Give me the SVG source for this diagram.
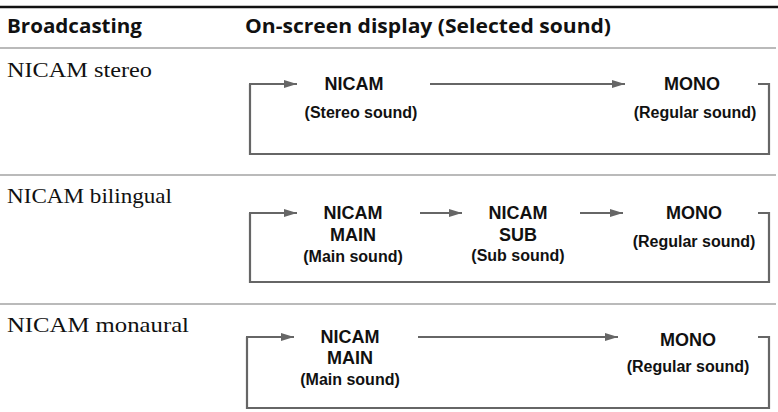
<svg xmlns="http://www.w3.org/2000/svg" width="778" height="412" viewBox="0 0 778 412">
<defs>
<marker id="ah" markerWidth="13" markerHeight="8" refX="13" refY="4" orient="auto" markerUnits="userSpaceOnUse"><path d="M0,0 L13,4 L0,8 Z" fill="#666"/></marker>
<style>
.h{font-family:"Open Sans","Liberation Sans",sans-serif;font-weight:bold;font-size:19px;fill:#111}
.l{font-family:"Liberation Serif",serif;font-size:21px;fill:#111}
.n{font-family:"Liberation Sans",sans-serif;font-weight:bold;font-size:18px;fill:#111;text-anchor:middle}
.s{font-family:"Liberation Sans",sans-serif;font-weight:bold;font-size:16px;fill:#111;text-anchor:middle}
.c{fill:none;stroke:#666;stroke-width:2.2}
.a{stroke:#666;stroke-width:2.2;marker-end:url(#ah)}
.r{stroke:#777;stroke-width:1.2}
</style>
</defs>
<line x1="0" y1="7" x2="778" y2="7" stroke="#111" stroke-width="2.5"/>
<text class="h" x="7" y="33" textLength="135" lengthAdjust="spacingAndGlyphs">Broadcasting</text>
<text class="h" x="245" y="33" textLength="366" lengthAdjust="spacingAndGlyphs">On-screen display (Selected sound)</text>
<line class="r" x1="0" y1="48" x2="776" y2="48"/>
<line class="r" x1="0" y1="175" x2="776" y2="175"/>
<line class="r" x1="0" y1="304" x2="776" y2="304"/>
<text class="l" x="7" y="77" textLength="145" lengthAdjust="spacingAndGlyphs">NICAM stereo</text>
<text class="l" x="7" y="203" textLength="165" lengthAdjust="spacingAndGlyphs">NICAM bilingual</text>
<text class="l" x="7" y="332" textLength="182" lengthAdjust="spacingAndGlyphs">NICAM monaural</text>
<g id="connectors">
<path class="c" d="M758,84 H769 V154 H250 V84"/>
<line class="a" x1="249" y1="84" x2="297" y2="84"/>
<line class="a" x1="430" y1="84" x2="625" y2="84"/>
<path class="c" d="M758,213 H769 V282 H250 V213"/>
<line class="a" x1="249" y1="213" x2="297" y2="213"/>
<line class="a" x1="420" y1="213" x2="462" y2="213"/>
<line class="a" x1="580" y1="213" x2="623" y2="213"/>
<path class="c" d="M758,337 H769 V408 H247 V337"/>
<line class="a" x1="246" y1="337" x2="294" y2="337"/>
<line class="a" x1="418" y1="337" x2="618" y2="337"/>
</g>
<g id="r1n1"><text class="n" x="354" y="90">NICAM</text><text class="s" x="361" y="118">(Stereo sound)</text></g>
<g id="r1n2"><text class="n" x="692" y="90">MONO</text><text class="s" x="695" y="118">(Regular sound)</text></g>
<g id="r2n1"><text class="n" x="353" y="219">NICAM</text><text class="n" x="353" y="241">MAIN</text><text class="s" x="353" y="262">(Main sound)</text></g>
<g id="r2n2"><text class="n" x="518" y="219">NICAM</text><text class="n" x="518" y="241">SUB</text><text class="s" x="518" y="261">(Sub sound)</text></g>
<g id="r2n3"><text class="n" x="694" y="219">MONO</text><text class="s" x="694" y="247">(Regular sound)</text></g>
<g id="r3n1"><text class="n" x="350" y="343">NICAM</text><text class="n" x="350" y="364">MAIN</text><text class="s" x="350" y="385">(Main sound)</text></g>
<g id="r3n2"><text class="n" x="688" y="346">MONO</text><text class="s" x="688" y="372">(Regular sound)</text></g>
</svg>
